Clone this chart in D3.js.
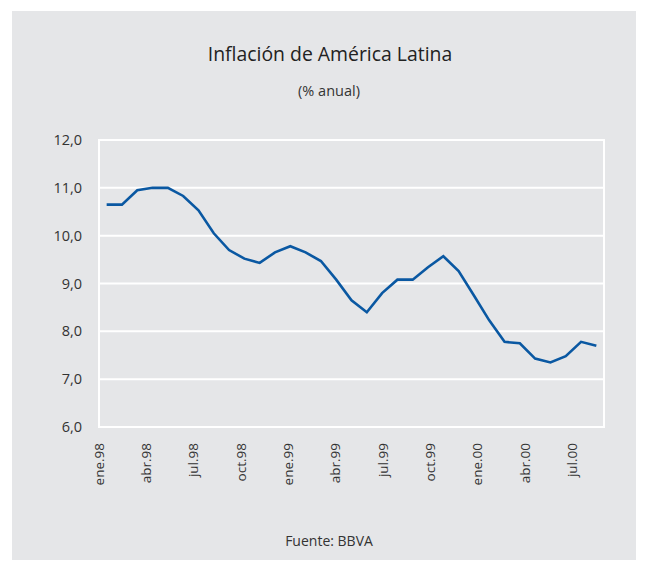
<!DOCTYPE html>
<html>
<head>
<meta charset="utf-8">
<script src="https://cdn.jsdelivr.net/npm/d3@7"></script>
<style>
  html, body { margin: 0; padding: 0; background: #ffffff; }
  svg { display: block; }
  text { font-family: "Open Sans", "DejaVu Sans", sans-serif; fill: #333333; }
</style>
</head>
<body>
<svg id="chart" width="647" height="571"></svg>
<script>
// Monthly inflation, Latin America (% annual), ene.98 – sep.00
const months = [
  "ene.98","feb.98","mar.98","abr.98","may.98","jun.98","jul.98","ago.98","sep.98","oct.98","nov.98","dic.98",
  "ene.99","feb.99","mar.99","abr.99","may.99","jun.99","jul.99","ago.99","sep.99","oct.99","nov.99","dic.99",
  "ene.00","feb.00","mar.00","abr.00","may.00","jun.00","jul.00","ago.00","sep.00"
];
const inflation = [
  10.65, 10.65, 10.95, 11.0, 11.0, 10.83, 10.53, 10.05, 9.70, 9.52, 9.43, 9.65,
  9.78, 9.65, 9.47, 9.08, 8.65, 8.40, 8.80, 9.08, 9.08, 9.34, 9.57, 9.26,
  8.75, 8.23, 7.78, 7.75, 7.43, 7.35, 7.48, 7.78, 7.70
];
const xTickLabels = ["ene.98","abr.98","jul.98","oct.98","ene.99","abr.99","jul.99","oct.99","ene.00","abr.00","jul.00"];
const yTicks = [6, 7, 8, 9, 10, 11, 12];

const title = "Inflación de América Latina";
const subtitle = "(% anual)";
const source = "Fuente: BBVA";

const svg = d3.select("#chart");

// grey card behind the chart
svg.append("rect")
  .attr("x", 12).attr("y", 11)
  .attr("width", 624).attr("height", 549)
  .attr("fill", "#e5e6e8");

const plot = { left: 99, right: 604, top: 140, bottom: 427 };

const x = d3.scaleBand()
  .domain(months)
  .range([plot.left, plot.right])
  .paddingInner(0).paddingOuter(0);

// quarterly label positions along the month axis
const xLabel = d3.scaleLinear()
  .domain([0, 32])
  .range([plot.left, plot.right]);

const y = d3.scaleLinear()
  .domain([6, 12])
  .range([plot.bottom, plot.top]);

// horizontal grid lines
svg.append("g")
  .selectAll("line")
  .data(yTicks)
  .join("line")
  .attr("x1", plot.left).attr("x2", plot.right)
  .attr("y1", d => y(d)).attr("y2", d => y(d))
  .attr("stroke", "#ffffff").attr("stroke-width", 2);

// plot frame sides
svg.append("g")
  .selectAll("line")
  .data([plot.left, plot.right])
  .join("line")
  .attr("x1", d => d).attr("x2", d => d)
  .attr("y1", plot.top - 1).attr("y2", plot.bottom + 1)
  .attr("stroke", "#ffffff").attr("stroke-width", 2);

// y axis labels
const fmt = d => d3.format(".1f")(d).replace(".", ",");
svg.append("g")
  .selectAll("text")
  .data(yTicks)
  .join("text")
  .attr("x", 82)
  .attr("y", d => y(d))
  .attr("dy", "0.35em")
  .attr("text-anchor", "end")
  .style("font-size", "14.5px")
  .text(fmt);

// x axis labels, rotated
svg.append("g")
  .selectAll("text")
  .data(xTickLabels)
  .join("text")
  .attr("transform", d => `translate(${xLabel(months.indexOf(d))},443) rotate(-90)`)
  .attr("text-anchor", "end")
  .attr("dy", "0.35em")
  .style("font-size", "13.5px")
  .text(d => d);

// inflation line
const line = d3.line()
  .x((d, i) => x(months[i]) + x.bandwidth() / 2)
  .y(d => y(d));

svg.append("path")
  .datum(inflation)
  .attr("d", line)
  .attr("fill", "none")
  .attr("stroke", "#0a58a2")
  .attr("stroke-width", 2.6)
  .attr("stroke-linejoin", "miter");

// titles
svg.append("text")
  .attr("x", 330).attr("y", 61)
  .attr("text-anchor", "middle")
  .style("font-size", "19.4px")
  .style("fill", "#222222")
  .text(title);

svg.append("text")
  .attr("x", 329).attr("y", 96)
  .attr("text-anchor", "middle")
  .style("font-size", "14.5px")
  .text(subtitle);

svg.append("text")
  .attr("x", 329).attr("y", 546)
  .attr("text-anchor", "middle")
  .style("font-size", "14px")
  .text(source);
</script>
</body>
</html>
